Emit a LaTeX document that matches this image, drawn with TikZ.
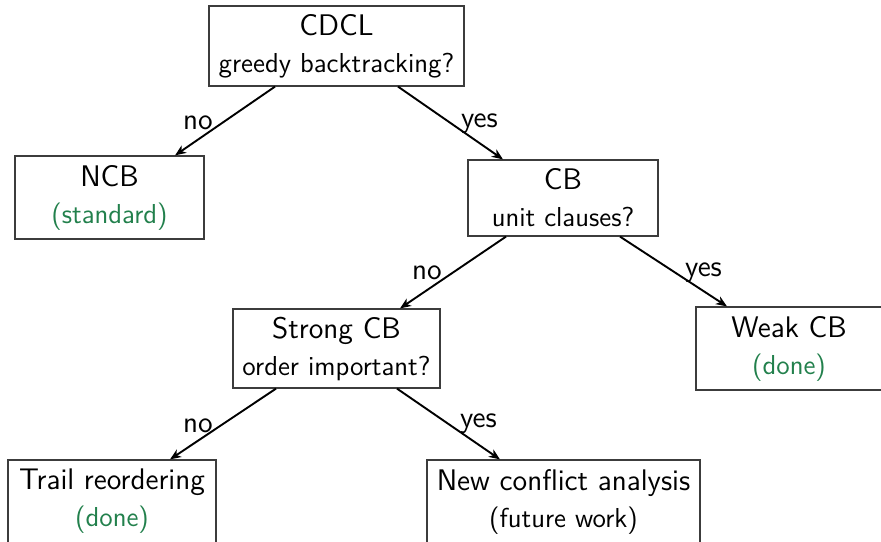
\documentclass[tikz,border=0pt]{standalone}
\usepackage{fontspec}
\usetikzlibrary{arrows.meta,calc}
\definecolor{doneGreen}{RGB}{34,128,76}
\definecolor{boxLine}{RGB}{60,60,60}
\newcommand\headf{\fontsize{14.9}{18.5}\selectfont}
\newcommand\subf{\fontsize{13.7}{18.5}\selectfont}
\newcommand\note[1]{\textcolor{doneGreen}{#1}}
\begin{document}
\begin{tikzpicture}[x=0.5pt,y=-0.5pt,
  box/.style={draw=boxLine, line width=0.6pt, inner sep=0pt, align=center,
              font=\sffamily\subf},
  edge/.style={line width=0.95pt, -{Stealth[length=5.5pt,width=4.4pt,inset=1.6pt]}},
  lbl/.style={font=\sffamily\headf, inner sep=0pt}]
  \useasboundingbox (0,0) rectangle (881,541);

  % decision boxes
  \node[box, minimum width=127.5pt, minimum height=40pt] (cdcl) at (336.5,46)
    {{\headf CDCL}\\greedy backtracking?};
  \node[box, minimum width=94.5pt, minimum height=41.5pt] (ncb) at (109.5,197.5)
    {{\headf NCB}\\\note{(standard)}};
  \node[box, minimum width=95pt, minimum height=38pt] (cb) at (563,198)
    {{\headf CB}\\unit clauses?};
  \node[box, minimum width=103.5pt, minimum height=39.5pt] (strong) at (336.5,348.5)
    {{\headf Strong CB}\\order important?};
  \node[box, minimum width=93pt, minimum height=41.5pt] (weak) at (789,348.5)
    {{\headf Weak CB}\\\note{(done)}};
  \node[box, minimum width=104pt, minimum height=41.5pt] (trail) at (112,501.5)
    {{\headf Trail reordering}\\\note{(done)}};
  \node[box, minimum width=136.5pt, minimum height=41.5pt] (newca) at (563.5,501.5)
    {{\headf New conflict analysis}\\(future work)};

  % branches
  \draw[edge] ($(cdcl.south)+(-61.5,0)$) -- ($(ncb.north)+(65.5,0)$)
    node[lbl, pos=0.5, xshift=-13.5pt, yshift=-1pt] {no};
  \draw[edge] ($(cdcl.south)+(61.5,0)$) -- ($(cb.north)+(-60,0)$)
    node[lbl, pos=0.5, xshift=14.5pt, yshift=-0.5pt] {yes};
  \draw[edge] ($(cb.south)+(-57,0)$) -- ($(strong.north)+(63.5,0)$)
    node[lbl, pos=0.5, xshift=-13pt, yshift=0pt] {no};
  \draw[edge] ($(cb.south)+(57,0)$) -- ($(weak.north)+(-62,0)$)
    node[lbl, pos=0.5, xshift=15pt, yshift=-0.5pt] {yes};
  \draw[edge] ($(strong.south)+(-60.5,0)$) -- ($(trail.north)+(58,0)$)
    node[lbl, pos=0.5, xshift=-12.5pt, yshift=-1pt] {no};
  \draw[edge] ($(strong.south)+(60.5,0)$) -- ($(newca.north)+(-63.5,0)$)
    node[lbl, pos=0.5, xshift=15pt, yshift=0pt] {yes};
\end{tikzpicture}
\end{document}
